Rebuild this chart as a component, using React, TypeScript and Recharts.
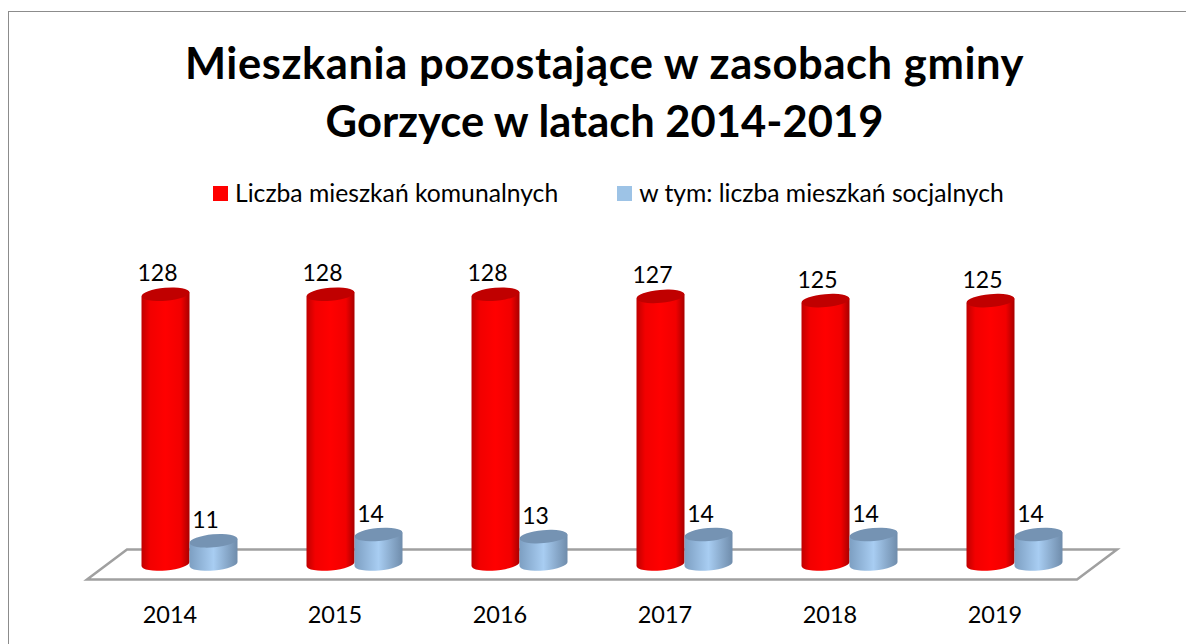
import { Bar, BarChart, LabelList, Legend, XAxis, YAxis, usePlotArea } from "recharts";

const years = ["2014", "2015", "2016", "2017", "2018", "2019"];
const communalFlats = [128, 128, 128, 127, 125, 125];
const socialFlats = [11, 14, 13, 14, 14, 14];

const titleFirstLine = "Mieszkania pozostające w zasobach gminy";
const titleSecondLine = "Gorzyce w latach 2014-2019";
const communalName = "Liczba mieszkań komunalnych";
const socialName = "w tym: liczba mieszkań socjalnych";

const data = years.map((year, i) => ({
  year,
  communal: communalFlats[i],
  social: socialFlats[i],
}));

const FONT = "Lato, sans-serif";
const TILT = -5;

// walec zamiast prostokąta, jak w wykresie 3D z Excela
function Cylinder(props: any) {
  const { x, y, width, height, gradient, cap } = props;
  const rx = width / 2;
  const ry = 6.5;
  const skew = 2.1;
  const cx = x + rx;
  const bottom = y + height;
  const side = `M${x},${y + skew} L${x},${bottom + skew} A${rx},${ry} ${TILT} 0 0 ${x + width},${bottom - skew} L${x + width},${y - skew} Z`;
  return (
    <g>
      <path d={side} fill={`url(#${gradient})`} />
      <ellipse cx={cx} cy={y} rx={rx} ry={ry} fill={cap} transform={`rotate(${TILT} ${cx} ${y})`} />
    </g>
  );
}

// podłoga wykresu rysowana od obszaru wykresu
function Floor() {
  const plot = usePlotArea();
  if (!plot) return null;
  const left = plot.x;
  const right = plot.x + plot.width;
  const base = plot.y + plot.height;
  const points = [
    [left - 19.5, base + 15.5],
    [left + 20.5, base - 14.5],
    [right + 20.5, base - 14.5],
    [right - 19.5, base + 15.5],
  ]
    .map((p) => p.join(","))
    .join(" ");
  return <polygon points={points} fill="#fff" stroke="#a0a0a0" strokeWidth={2.5} />;
}

function YearTick({ x, y, payload }: any) {
  return (
    <text x={x - 19} y={y + 51} textAnchor="middle" fontFamily={FONT} fontSize={23.5} fill="#000">
      {payload.value}
    </text>
  );
}

function ValueLabel({ x, y, width, value }: any) {
  return (
    <text x={x + width / 2 - 8} y={y - 13} textAnchor="middle" fontFamily={FONT} fontSize={23} fill="#000">
      {value}
    </text>
  );
}

function LegendRow({ payload }: any) {
  return (
    <div style={{ display: "flex", height: 30, alignItems: "center", paddingLeft: 213, gap: 59 }}>
      {(payload ?? []).map((item: any) => (
        <div key={item.value} style={{ display: "flex", alignItems: "center", gap: 7 }}>
          <span style={{ width: 15, height: 15, background: item.color, display: "inline-block" }} />
          <span style={{ fontFamily: FONT, fontSize: 24.7, lineHeight: "30px", color: "#000", whiteSpace: "nowrap" }}>
            {item.value}
          </span>
        </div>
      ))}
    </div>
  );
}

export default function App() {
  return (
    <div style={{ position: "absolute", left: 0, top: 0, width: 1186, height: 644, overflow: "hidden", background: "#fff" }}>
      <div
        style={{
          position: "absolute",
          left: 7.5,
          top: 11,
          width: 1200,
          height: 660,
          borderTop: "1.5px solid #8c8c8c",
          borderLeft: "1.5px solid #8c8c8c",
          boxSizing: "border-box",
        }}
      />
      <div
        style={{
          position: "absolute",
          left: 0,
          top: 33,
          width: 1209,
          textAlign: "center",
          fontFamily: FONT,
          fontWeight: 700,
          fontSize: 43.5,
          lineHeight: "58px",
          color: "#000",
        }}
      >
        <div style={{ letterSpacing: 0.58 }}>{titleFirstLine}</div>
        <div style={{ letterSpacing: 0 }}>{titleSecondLine}</div>
      </div>
      <BarChart
        width={1186}
        height={644}
        data={data}
        barSize={48}
        barGap={0}
        margin={{ left: 106.5, right: 89.5, top: 239, bottom: 0 }}
        style={{ position: "absolute", left: 0, top: 0 }}
      >
        <defs>
          <linearGradient id="redSide" x1="0" y1="0" x2="1" y2="0">
            <stop offset="0" stopColor="#c00000" />
            <stop offset="0.18" stopColor="#f20000" />
            <stop offset="0.5" stopColor="#ff0000" />
            <stop offset="0.82" stopColor="#f20000" />
            <stop offset="1" stopColor="#a80000" />
          </linearGradient>
          <linearGradient id="blueSide" x1="0" y1="0" x2="1" y2="0">
            <stop offset="0" stopColor="#7d9fc2" />
            <stop offset="0.5" stopColor="#a8cdf2" />
            <stop offset="1" stopColor="#6f8cab" />
          </linearGradient>
        </defs>
        <Floor />
        <XAxis dataKey="year" axisLine={false} tickLine={false} height={80} interval={0} tick={<YearTick />} />
        <YAxis hide domain={[0, 140]} />
        <Legend
          verticalAlign="top"
          content={<LegendRow />}
          wrapperStyle={{ top: 178, left: 0, width: 1186 }}
        />
        <Bar
          dataKey="communal"
          name={communalName}
          fill="#ff0000"
          isAnimationActive={false}
          shape={<Cylinder gradient="redSide" cap="#c00000" />}
        >
          <LabelList dataKey="communal" content={<ValueLabel />} />
        </Bar>
        <Bar
          dataKey="social"
          name={socialName}
          fill="#9dc3e6"
          isAnimationActive={false}
          shape={<Cylinder gradient="blueSide" cap="#7593b3" />}
        >
          <LabelList dataKey="social" content={<ValueLabel />} />
        </Bar>
      </BarChart>
    </div>
  );
}
